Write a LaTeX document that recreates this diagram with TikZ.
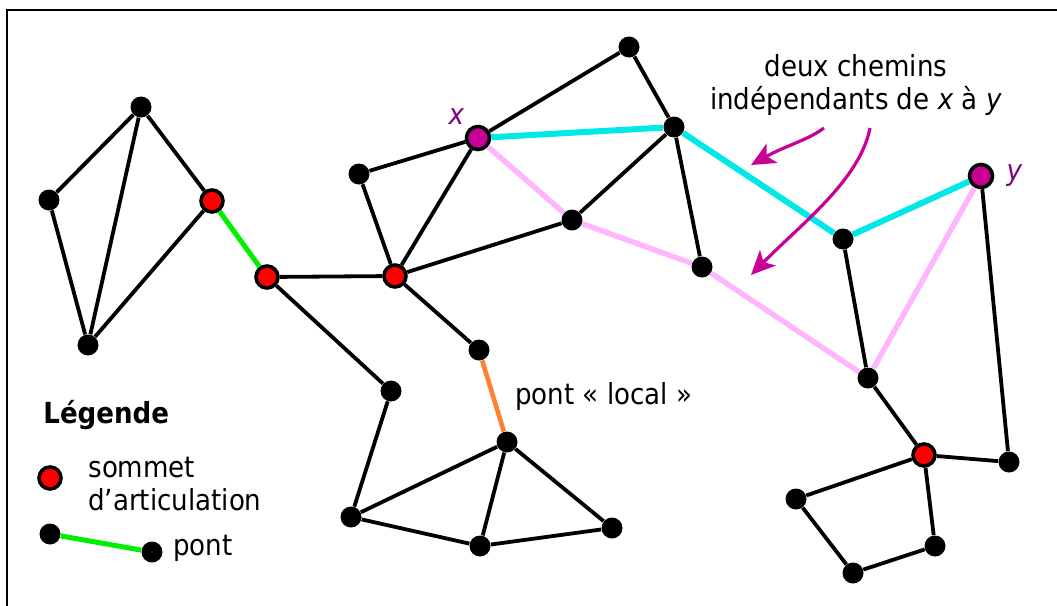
\documentclass[tikz,border=0pt]{standalone}
\usepackage{fontspec}
\setmainfont{DejaVu Sans Condensed}
\usetikzlibrary{arrows.meta,positioning}
\definecolor{endmag}{RGB}{200,0,150}
\definecolor{labpurple}{RGB}{128,0,128}
\definecolor{pathcyan}{RGB}{0,232,232}
\definecolor{pathpink}{RGB}{255,182,255}
\definecolor{bridgegreen}{RGB}{0,240,0}
\definecolor{localorange}{RGB}{255,128,48}

\begin{document}
\begin{tikzpicture}[
  x=0.5pt,y=-0.5pt,
  font=\fontsize{14.5}{16.5}\selectfont,
  >={Stealth[length=12pt,width=11pt,inset=3pt]},
  vtx/.style={circle,fill=black,inner sep=0pt,minimum size=10.5pt},
  art/.style={circle,draw=black,fill=red,line width=1.8pt,inner sep=0pt,minimum size=11pt},
  ends/.style={art,fill=endmag,minimum size=11.5pt},
  lab/.style={text=labpurple,inner sep=0pt},
  txt/.style={inner sep=0pt},
  edge/.style={line width=1.9pt},
  bridge/.style={line width=2.5pt,draw=bridgegreen},
  localbridge/.style={line width=2.3pt,draw=localorange},
  cyanpath/.style={line width=3pt,draw=pathcyan},
  pinkpath/.style={line width=2.7pt,draw=pathpink},
  arr/.style={->,line width=1.6pt,draw=endmag}
]
\useasboundingbox (0,0) rectangle (1057,606);
\clip (0,0) rectangle (1057,606);
\draw[line width=1pt] (6.5,700) |- (1100,9.5);

% vertices
\node[vtx] (a1) at (141,107) {};
\node[vtx] (a2) at (49,200) {};
\node[vtx] (a3) at (88,345) {};
\node[art] (ar1) at (212,201) {};
\node[art] (ar2) at (267,277) {};
\node[art] (ar3) at (395,276) {};
\node[vtx] (b1) at (359,174) {};
\node[ends] (x) at (478,138) {};
\node[vtx] (t1) at (629,47) {};
\node[vtx] (c1) at (674,127) {};
\node[vtx] (c2) at (572,220) {};
\node[vtx] (c3) at (702,267) {};
\node[vtx] (c4) at (843,239) {};
\node[ends] (y) at (981,176) {};
\node[vtx] (d1) at (868,378) {};
\node[art] (ar4) at (924,455) {};
\node[vtx] (d2) at (1009,462) {};
\node[vtx] (d3) at (796,499) {};
\node[vtx] (d4) at (853,573) {};
\node[vtx] (d5) at (935,546) {};
\node[vtx] (e1) at (479,350) {};
\node[vtx] (e2) at (391,391) {};
\node[vtx] (e3) at (507,442) {};
\node[vtx] (e4) at (351,517) {};
\node[vtx] (e5) at (480,546) {};
\node[vtx] (e6) at (612,528) {};

\node[lab,above left=2pt and 2pt of x] (xlab) {\textit{x}};
\node[lab,right=6pt of y] (ylab) {\textit{y}};

% edges
\draw[edge] (a2) -- (a1) -- (ar1) -- (a3) -- (a2);
\draw[edge] (a1) -- (a3);
\draw[bridge] (ar1) -- (ar2);
\draw[edge] (ar2) -- (ar3);
\draw[edge] (ar2) -- (e2) -- (e4);
\draw[edge] (ar3) -- (b1) -- (x) -- (ar3) -- (c2) -- (c1) -- (t1) -- (x);
\draw[edge] (c1) -- (c3);
\draw[edge] (c4) -- (d1) -- (ar4) -- (d2) -- (y);
\draw[edge] (ar4) -- (d3) -- (d4) -- (d5) -- (ar4);
\draw[edge] (ar3) -- (e1);
\draw[localbridge] (e1) -- (e3);
\draw[edge] (e3) -- (e4) -- (e5) -- (e6) -- (e3) -- (e5);
\draw[cyanpath] (x) -- (c1) -- (c4) -- (y);
\draw[pinkpath] (x) -- (c2) -- (c3) -- (d1) -- (y);

% annotations
\node[txt,align=center] (twopaths) at (856,85) {deux chemins\\ind\'ependants de \textit{x} \`a \textit{y}};
\coordinate (arr1a) at (824,128);
\coordinate (arr1b) at (751,165);
\coordinate (arr2a) at (870,128);
\coordinate (arr2b) at (751,275);
\draw[arr] (arr1a) .. controls (808,140) and (785,146) .. (arr1b);
\draw[arr] (arr2a) .. controls (860,180) and (800,225) .. (arr2b);
\node[txt,anchor=base west] (loclab) at (515,404) {pont « local »};

% legend
\node[txt,anchor=base west,font=\fontsize{14.5}{16.5}\selectfont\bfseries] (legtitle) at (43,423) {Légende};
\node[art] (legart) at (50,478) {};
\node[txt,align=left,anchor=west] (legarttxt) at (88,484) {sommet\\d’articulation};
\node[vtx] (legu) at (50,534) {};
\node[vtx] (legv) at (152,552) {};
\draw[bridge] (legu) -- (legv);
\node[txt,anchor=base west] (legbrtxt) at (173,555) {pont};
\end{tikzpicture}
\end{document}
